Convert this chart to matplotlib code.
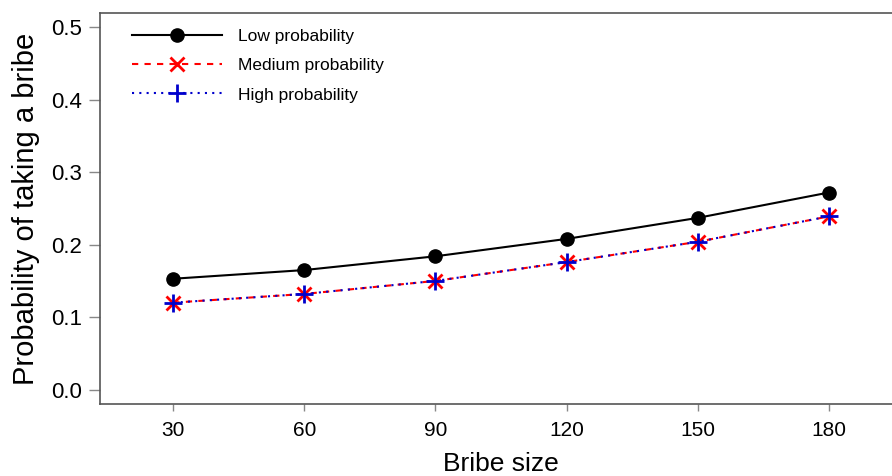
import matplotlib
matplotlib.use("Agg")
import matplotlib.pyplot as plt

# data
bribe_size = [30, 60, 90, 120, 150, 180]
low_prob = [0.153, 0.165, 0.184, 0.208, 0.237, 0.272]
medium_prob = [0.120, 0.132, 0.150, 0.176, 0.204, 0.239]
high_prob = [0.120, 0.132, 0.150, 0.176, 0.204, 0.239]
y_ticks = [0.0, 0.1, 0.2, 0.3, 0.4, 0.5]

plt.rcParams['font.family'] = ['Liberation Sans', 'DejaVu Sans']

fig = plt.figure(figsize=(8.92, 4.76), dpi=100)
ax = fig.add_axes([100 / 892, 1 - 404 / 476, 802 / 892, 391 / 476])

ax.plot(bribe_size, low_prob, color='black', lw=1.5, marker='o', ms=9.5,
        label='Low probability')
ax.plot(bribe_size, medium_prob, color='red', lw=1.5, ls=(0, (3, 3)), marker='x',
        ms=10, mew=2, label='Medium probability')
ax.plot(bribe_size, high_prob, color='#0000cc', lw=1.5, ls=(0, (1, 2.5)), marker='+',
        ms=13, mew=2, label='High probability')

ax.set_xlim(13.2, 196.8)
ax.set_ylim(-0.02, 0.52)
ax.set_xticks(bribe_size)
ax.set_yticks(y_ticks)
ax.set_yticklabels(['%.1f' % v for v in y_ticks], fontsize=16)
ax.set_xticklabels([str(v) for v in bribe_size], fontsize=15)
ax.tick_params(axis='y', length=8, width=1, color='#888888', pad=5)
ax.tick_params(axis='x', length=5, width=1, color='#888888', pad=7)
for s in ax.spines.values():
    s.set_color('#555555')
    s.set_linewidth(1.2)

ax.set_xlabel('Bribe size', fontsize=19, labelpad=9)
ax.set_ylabel('Probability of taking a bribe', fontsize=21, labelpad=8)

ax.legend(loc='upper left', frameon=False, fontsize=12.5, handlelength=5.2,
          borderaxespad=0.5, labelspacing=0.82, bbox_to_anchor=(0.02, 1.0),
          handletextpad=0.9)

fig.savefig('out.png', dpi=100)
